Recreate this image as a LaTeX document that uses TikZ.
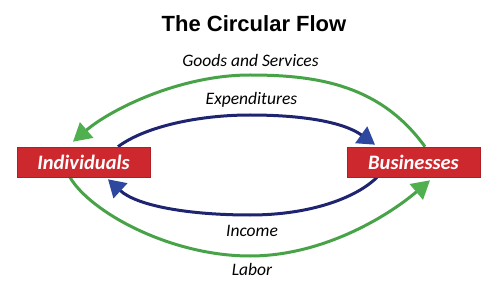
\documentclass[tikz,border=0pt]{standalone}
\usepackage{fontspec}
\setmainfont{Carlito}
\newfontfamily\titlefont{Liberation Sans}
\usetikzlibrary{arrows.meta}
\definecolor{boxred}{RGB}{204,40,46}
\definecolor{boxedge}{RGB}{178,30,36}
\definecolor{flowgreen}{RGB}{72,163,72}
\definecolor{tipgreen}{RGB}{80,176,80}
\definecolor{flowblue}{RGB}{30,36,112}
\definecolor{tipblue}{RGB}{45,72,158}
\pgfdeclarelayer{bg}
\pgfsetlayers{bg,main}
\tikzset{
  sector/.style={draw=boxedge, line width=0.6pt, fill=boxred, minimum width=133pt, minimum height=30pt,
    inner sep=0pt, text=white, font=\fontsize{20.5}{22}\selectfont\bfseries\itshape},
  greenflow/.style={draw=flowgreen, line width=3pt, -{Triangle[length=18pt,width=20pt,fill=tipgreen,color=tipgreen]}},
  blueflow/.style={draw=flowblue, line width=3pt, -{Triangle[length=17pt,width=20pt,fill=tipblue,color=tipblue]}},
  flowlabel/.style={anchor=base, inner sep=0pt, font=\fontsize{17.5}{19}\selectfont\itshape}
}
\begin{document}
\begin{tikzpicture}[x=1pt,y=-1pt]
\useasboundingbox (0,0) rectangle (500,291);
\node[anchor=base, inner sep=0pt, font=\titlefont\fontsize{22}{24}\selectfont\bfseries] (title) at (254,32) {The Circular Flow};
\node[sector] (ind) at (83.5,162) {Individuals};
\node[sector] (bus) at (413.5,162) {Businesses};
\node[flowlabel] (goods) at (250.5,67) {Goods and Services};
\node[flowlabel] (exp) at (251.5,105) {Expenditures};
\node[flowlabel] (inc) at (252,236) {Income};
\node[flowlabel] (lab) at (252,275) {Labor};
\coordinate (gts) at ([xshift=11.5pt]bus.north);
\coordinate (gte) at ([shift={(-10.5,-5)}]ind.north);
\coordinate (bts) at ([xshift=34.5pt]ind.north);
\coordinate (bte) at ([shift={(-38.5,-2)}]bus.north);
\coordinate (bbs) at ([xshift=-36.5pt]bus.south);
\coordinate (bbe) at ([shift={(24.5,2)}]ind.south);
\coordinate (gbs) at ([xshift=-13.5pt]ind.south);
\coordinate (gbe) at ([shift={(16.5,3)}]bus.south);
\begin{pgfonlayer}{bg}
\draw[greenflow] (gts) .. controls (381,86) and (320,75) .. (250,75)
                       .. controls (180,75) and (110.8,109.3) .. (gte);
\draw[greenflow] (gbs) .. controls (90,211.8) and (170,256) .. (250,256)
                       .. controls (320,256) and (384.4,219) .. (gbe);
\draw[blueflow] (bts) .. controls (146,126) and (200,115) .. (250,115)
                      .. controls (300,115) and (342.6,121.4) .. (bte);
\draw[blueflow] (bbs) .. controls (356,198) and (310,215) .. (250,215)
                      .. controls (190,215) and (137.2,206.2) .. (bbe);
\end{pgfonlayer}
\end{tikzpicture}
\end{document}
